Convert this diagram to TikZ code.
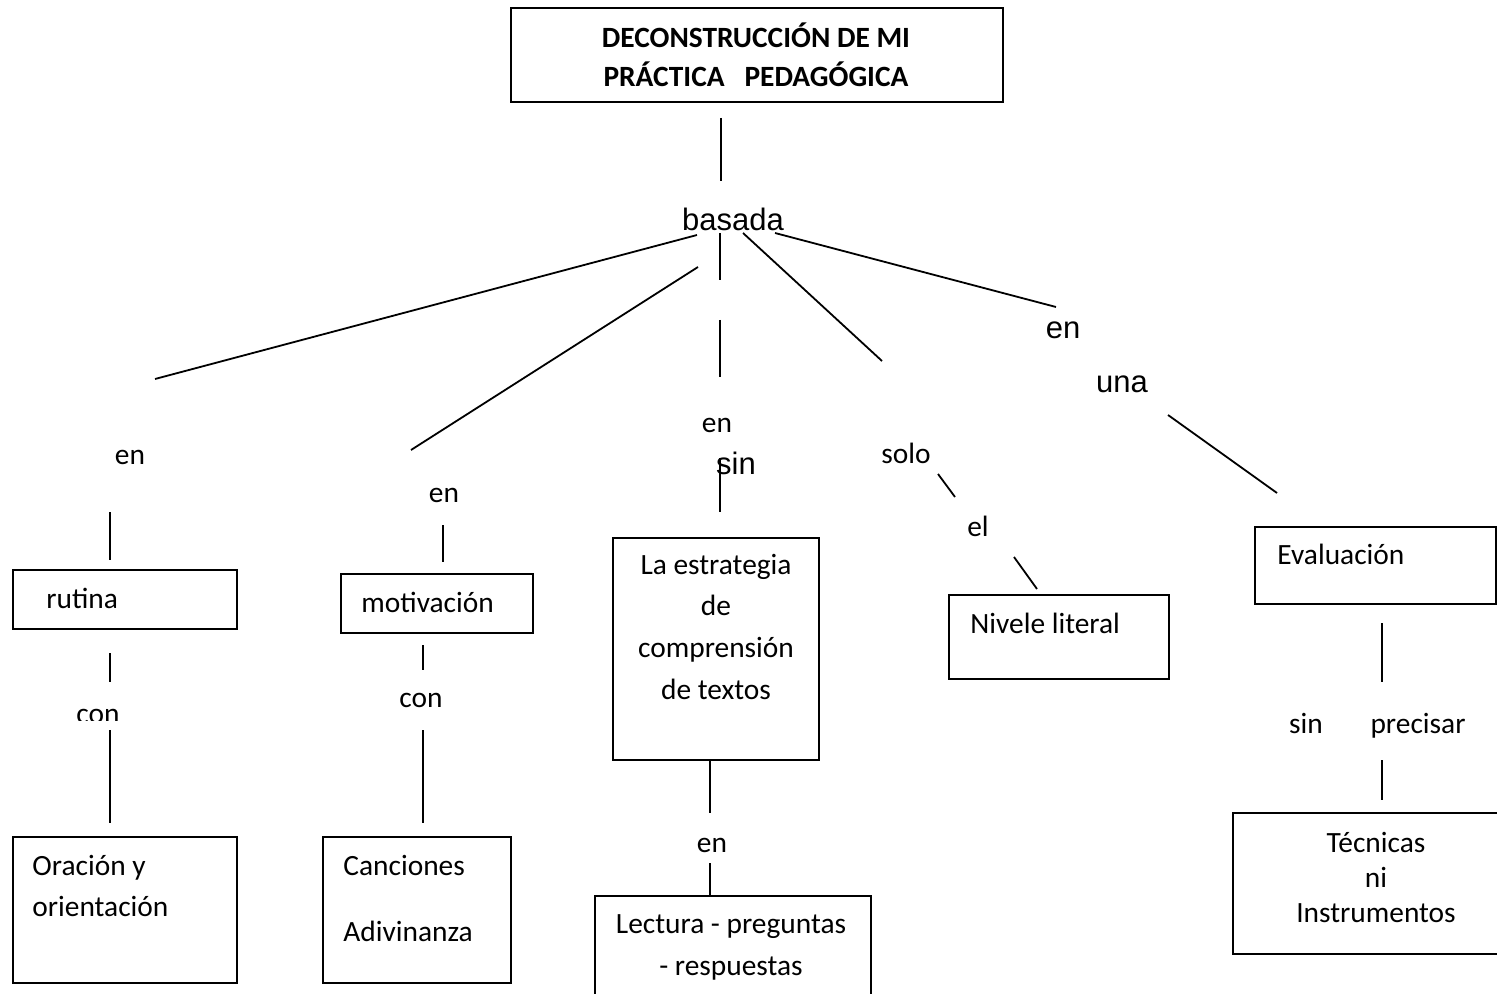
\documentclass[tikz,border=0pt]{standalone}
\usepackage{fontspec}
\setmainfont{Carlito}
\newfontfamily\arialf{Liberation Sans}
\tikzset{
  caja/.style={draw,line width=0.9pt,inner sep=0pt,anchor=north west},
  txt/.style={inner sep=0pt,anchor=base,font=\fontsize{14.7}{20.75}\selectfont},
  atxt/.style={inner sep=0pt,anchor=base,font=\arialf\fontsize{15.5}{18}\selectfont},
  linea/.style={line width=0.9pt}
}
\begin{document}
\begin{tikzpicture}[x=0.5pt,y=-0.5pt]
\useasboundingbox (0,0) rectangle (1497,994);
\node (titulo) [caja,minimum width=246pt,minimum height=47pt] at (510,7) {};
\node (ttitulo) [txt,align=center,font=\bfseries\fontsize{14.7}{19.5}\selectfont] at (756,87) {DECONSTRUCCIÓN DE MI\\PRÁCTICA\ \ \ PEDAGÓGICA};
\node (basada) [atxt] at (733,231) {basada};
\coordinate (t1) at (721,118); \coordinate (t2) at (721,181);
\draw[linea] (t1) -- (t2);
\coordinate (b1) at (697,235); \coordinate (b1e) at (155,379);
\coordinate (b2) at (698,267); \coordinate (b2e) at (411,450);
\coordinate (b3) at (720,233); \coordinate (b3e) at (720,280);
\coordinate (b4) at (720,320); \coordinate (b4e) at (720,377);
\coordinate (b5) at (743,233); \coordinate (b5e) at (882,361);
\coordinate (b6) at (775,233); \coordinate (b6e) at (1056,307);
\draw[linea] (b1) -- (b1e);
\draw[linea] (b2) -- (b2e);
\draw[linea] (b3) -- (b3e);
\draw[linea] (b4) -- (b4e);
\draw[linea] (b5) -- (b5e);
\draw[linea] (b6) -- (b6e);
% rutina
\node (en1) [txt] at (130,464) {en};
\node (rutina) [caja,minimum width=112pt,minimum height=29.5pt] at (12,569) {};
\node (trutina) [txt,anchor=base west] at (46,608) {rutina};
\begin{scope}
\clip (0,0) rectangle (1497,720);
\node (con1) [txt] at (98,723) {con};
\end{scope}
\node (oracion) [caja,minimum width=112pt,minimum height=73pt] at (12,836) {};
\node (toracion) [txt,anchor=base west,align=left,font=\fontsize{14.7}{20.5}\selectfont] at (32,916) {Oración y\\orientación};
\coordinate (r1) at (110,512); \coordinate (r1e) at (110,560);
\coordinate (r2) at (110,653); \coordinate (r2e) at (110,682);
\coordinate (r3) at (110,730); \coordinate (r3e) at (110,823);
\draw[linea] (r1) -- (r1e);
\draw[linea] (r2) -- (r2e);
\draw[linea] (r3) -- (r3e);
% motivacion
\node (en2) [txt] at (444,502) {en};
\node (motivacion) [caja,minimum width=96pt,minimum height=29.5pt] at (340,573) {};
\node (tmotivacion) [txt,anchor=base west] at (361,612) {motivación};
\node (con2) [txt] at (421,707) {con};
\node (canciones) [caja,minimum width=94pt,minimum height=73pt] at (322,836) {};
\node (tcanciones) [txt,anchor=base west,align=left,font=\fontsize{14.7}{20.5}\selectfont] at (343,941) {Canciones\\[12.5pt]Adivinanza};
\coordinate (m1) at (443,525); \coordinate (m1e) at (443,562);
\coordinate (m2) at (423,645); \coordinate (m2e) at (423,670);
\coordinate (m3) at (423,730); \coordinate (m3e) at (423,823);
\draw[linea] (m1) -- (m1e);
\draw[linea] (m2) -- (m2e);
\draw[linea] (m3) -- (m3e);
% estrategia
\node (en3) [txt] at (717,432) {en};
\node (sin1) [atxt] at (736,474) {sin};
\node (estrategia) [caja,minimum width=103pt,minimum height=111pt] at (612,537) {};
\node (testrategia) [txt,align=center,font=\fontsize{14.7}{20.8}\selectfont] at (716,699) {La estrategia\\de\\comprensión\\de textos};
\node (en4) [txt] at (712,852) {en};
\node (lectura) [caja,minimum width=138pt,minimum height=65pt] at (594,895) {};
\node (tlectura) [txt,align=center,font=\fontsize{14.7}{21}\selectfont] at (731,975) {Lectura - preguntas\\- respuestas};
\coordinate (s1) at (720,458); \coordinate (s1e) at (720,512);
\coordinate (s2) at (710,813); \coordinate (s3) at (710,863);
\draw[linea] (s1) -- (s1e);
\draw[linea] (s2 |- estrategia.south) -- (s2);
\draw[linea] (s3) -- (s3 |- lectura.north);
% nivel
\node (solo) [txt] at (906,463) {solo};
\node (el) [txt] at (978,536) {el};
\node (nivele) [caja,minimum width=110pt,minimum height=42pt] at (948,594) {};
\node (tnivele) [txt,anchor=base west] at (970,633) {Nivele literal};
\coordinate (n1) at (938,474); \coordinate (n1e) at (955,497);
\coordinate (n2) at (1014,557); \coordinate (n2e) at (1037,589);
\draw[linea] (n1) -- (n1e);
\draw[linea] (n2) -- (n2e);
% evaluacion
\node (en5) [atxt] at (1063,338) {en};
\node (una) [atxt] at (1122,392) {una};
\node (evaluacion) [caja,minimum width=120.5pt,minimum height=38.5pt] at (1254,526) {};
\node (tevaluacion) [txt,anchor=base west] at (1277,564) {Evaluación};
\node (sin2) [txt] at (1306,733) {sin};
\node (precisar) [txt] at (1418,733) {precisar};
\node (tecnicas) [caja,minimum width=150pt,minimum height=70.5pt] at (1232,812) {};
\node (ttecnicas) [txt,align=center,font=\fontsize{14.7}{17.5}\selectfont] at (1376,922) {Técnicas\\ni\\Instrumentos};
\coordinate (v1) at (1168,415); \coordinate (v1e) at (1277,493);
\coordinate (v2) at (1382,623); \coordinate (v2e) at (1382,682);
\coordinate (v3) at (1382,760); \coordinate (v3e) at (1382,800);
\draw[linea] (v1) -- (v1e);
\draw[linea] (v2) -- (v2e);
\draw[linea] (v3) -- (v3e);
\end{tikzpicture}
\end{document}
